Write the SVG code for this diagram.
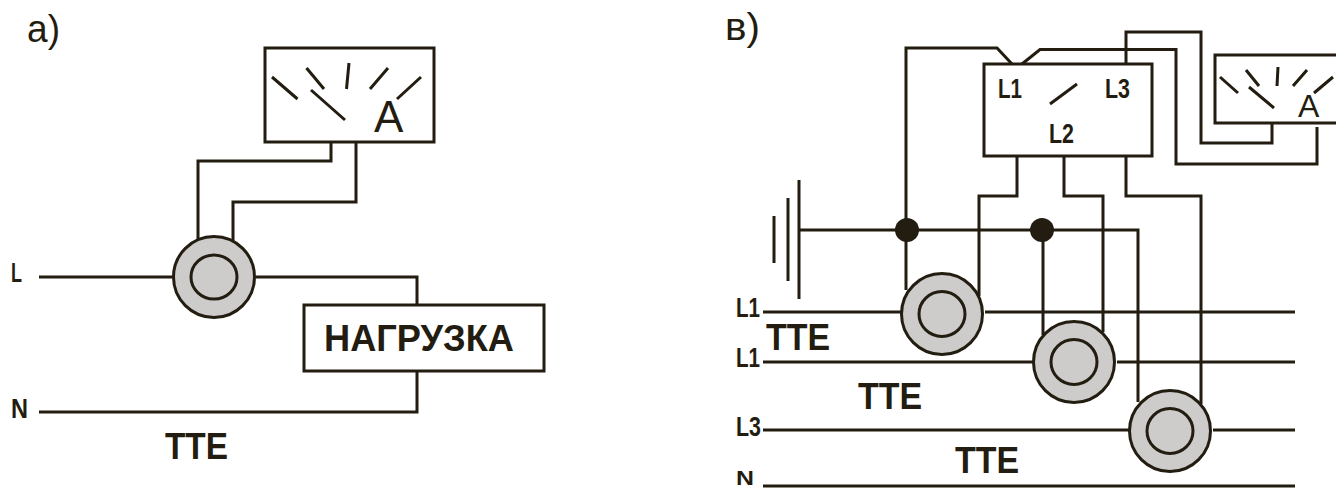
<svg xmlns="http://www.w3.org/2000/svg" width="1336" height="490" viewBox="0 0 1336 490">
<style>
.w{fill:none;stroke:#231c10;stroke-width:3;stroke-linejoin:miter}
.b{fill:#fff;stroke:#231c10;stroke-width:3}
.c{fill:#cdcccb;stroke:#231c10;stroke-width:3}
.d{fill:#231c10}
text{fill:#231c10;font-family:"Liberation Sans",Arial,sans-serif}
.l{font-weight:700;font-size:27px}
.n{font-weight:700;font-size:20px}
.t{font-weight:700;font-size:36px}
.r{font-size:44px}
.p{font-size:38px}
</style>
<rect width="1336" height="490" fill="#fff"/>
<g id="connectors">
<path class="w" d="M331 142V161H198V256"/>
<path class="w" d="M356 142V202H233V256"/>
<path class="w" d="M39 277H174M256 277H417V305"/>
<path class="w" d="M417 371V412H39"/>
<path class="w" d="M906 290V48H997L1012 64"/>
<path class="w" d="M1022 64L1040 49.500H1176V164H1317V127"/>
<path class="w" d="M1126 64V32H1201V143H1272V123"/>
<path class="w" d="M1017 156V196H979V296"/>
<path class="w" d="M1064 156V196H1103V332"/>
<path class="w" d="M1126 156V196H1201V404"/>
<path class="w" d="M799 230H1138V402"/>
<path class="w" d="M1043 230V335"/>
<path class="w" d="M763 312H901M985 312H1295"/>
<path class="w" d="M763 362H1033M1117 362H1295"/>
<path class="w" d="M763 430H1129M1213 430H1295"/>
<path class="w" d="M763 486H1295"/>
<path class="w" d="M774 216V263M788 198V281M799 180V299"/>
</g>
<g id="meter-a">
<rect class="b" x="265" y="48" width="169" height="94"/>
<path class="w" d="M272 77L297.500 99M306.500 68L324 89M349 63L346.500 89M388 68L370 89M421 77L397 99M311 90L345 120"/>
<text class="r" x="374" y="132">A</text>
</g>
<g id="ct-a">
<circle class="c" cx="214" cy="277" r="40.500"/>
<ellipse class="c" cx="214" cy="277" rx="23" ry="22"/>
</g>
<g id="load">
<rect class="b" x="304" y="305" width="240" height="66"/>
<text class="t" x="324" y="351" textLength="190" lengthAdjust="spacingAndGlyphs">НАГРУЗКА</text>
</g>
<g id="labels-a">
<text class="p" x="27" y="42" textLength="33" lengthAdjust="spacingAndGlyphs">а)</text>
<text class="l" x="11" y="282" textLength="11" lengthAdjust="spacingAndGlyphs">L</text>
<text class="l" x="11" y="418" textLength="17" lengthAdjust="spacingAndGlyphs">N</text>
<text class="t" x="165" y="459" textLength="63" lengthAdjust="spacingAndGlyphs">ТТЕ</text>
</g>
<g id="relay">
<rect class="b" x="984" y="64" width="168" height="92"/>
<path class="w" d="M1050 104L1077 84"/>
<text class="l" x="998" y="98" textLength="24" lengthAdjust="spacingAndGlyphs">L1</text>
<text class="l" x="1105" y="98" textLength="25" lengthAdjust="spacingAndGlyphs">L3</text>
<text class="l" x="1049" y="143" textLength="25" lengthAdjust="spacingAndGlyphs">L2</text>
</g>
<g id="meter-b">
<path class="w" d="M1336 55H1215V123H1336"/>
<path class="w" d="M1220 77L1238 93M1246 70L1259 86M1278 67L1277 86M1307 70L1293 86M1333 77L1314 93M1249 87L1274 108"/>
<text x="1298" y="117" font-size="32">A</text>
</g>
<g id="junction-1"><circle class="d" cx="907" cy="230" r="12"/></g>
<g id="junction-2"><circle class="d" cx="1042" cy="230" r="12"/></g>
<g id="ct-1">
<circle class="c" cx="942" cy="314" r="40.500"/>
<ellipse class="c" cx="942" cy="314" rx="23" ry="22.500"/>
</g>
<g id="ct-2">
<circle class="c" cx="1074" cy="362" r="40.500"/>
<ellipse class="c" cx="1074" cy="362" rx="23" ry="22.500"/>
</g>
<g id="ct-3">
<circle class="c" cx="1170" cy="431" r="40.500"/>
<ellipse class="c" cx="1170" cy="431" rx="23" ry="22.500"/>
</g>
<g id="labels-b">
<text class="p" x="725" y="40" textLength="35" lengthAdjust="spacingAndGlyphs">в)</text>
<text class="l" x="736" y="317" textLength="24" lengthAdjust="spacingAndGlyphs">L1</text>
<text class="l" x="736" y="367" textLength="24" lengthAdjust="spacingAndGlyphs">L1</text>
<text class="l" x="736" y="436" textLength="25" lengthAdjust="spacingAndGlyphs">L3</text>
<text class="n" x="736" y="485" textLength="18" lengthAdjust="spacingAndGlyphs">N</text>
<text class="t" x="766" y="350" textLength="64" lengthAdjust="spacingAndGlyphs">ТТЕ</text>
<text class="t" x="858" y="409" textLength="64" lengthAdjust="spacingAndGlyphs">ТТЕ</text>
<text class="t" x="955" y="473" textLength="64" lengthAdjust="spacingAndGlyphs">ТТЕ</text>
</g>
</svg>
